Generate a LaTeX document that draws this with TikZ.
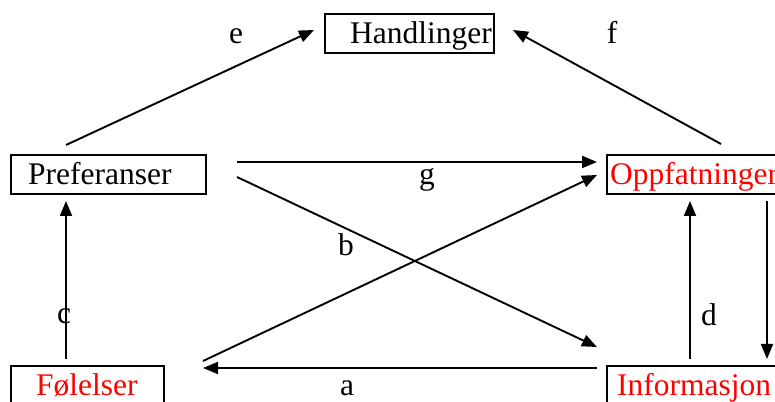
\documentclass[tikz,border=0pt]{standalone}
\usepackage{fontspec}
\setmainfont{Liberation Serif}
\usetikzlibrary{arrows.meta,calc}
\begin{document}
\begin{tikzpicture}[x=1pt,y=1pt,
  box/.style={draw,line width=2pt,minimum height=39pt,inner sep=0pt},
  txt/.style={anchor=base,inner sep=0pt,font=\fontsize{31.5}{36}\selectfont},
  lbl/.style={anchor=base,inner sep=0pt,font=\fontsize{31.5}{36}\selectfont},
  conn/.style={line width=1.9pt,-{Triangle[length=15pt,width=12pt]}}]
\useasboundingbox (0,0) rectangle (775,401);
\clip (0,0) rectangle (775,401);
% boxes
\node[box,minimum width=169pt] (H) at (409.5,367.5) {};
\node[box,minimum width=195pt] (P) at (108.5,226.5) {};
\node[box,minimum width=173pt] (O) at (693.5,226.5) {};
\node[box,minimum width=153pt,minimum height=45pt] (F) at (87.5,12.5) {};
\node[box,minimum width=183pt,minimum height=45pt] (I) at (698.5,12.5) {};
% texts
\node[txt,anchor=base west] (tH) at (350,357) {Handlinger};
\node[txt,anchor=base west] (tP) at (28,216) {Preferanser};
\node[txt,anchor=base west,text=red] (tO) at (610,216) {Oppfatninger};
\node[txt,anchor=base west,text=red] (tF) at (36,6) {Følelser};
\node[txt,anchor=base west,text=red] (tI) at (617,6) {Informasjon};
% labels
\node[lbl] (le) at (236,357) {e};
\node[lbl] (lf) at (612,357) {f};
\node[lbl] (lg) at (427,216) {g};
\node[lbl] (lb) at (346,145) {b};
\node[lbl] (lc) at (64,77) {c};
\node[lbl] (ld) at (709,75) {d};
\node[lbl] (la) at (347,6) {a};
% connectors
\draw[conn] ($(P.north west)+(56,9)$) -- ($(H.west)+(-10,3.5)$);
\draw[conn] ($(O.north west)+(115,10)$) -- ($(H.east)+(18,3.5)$);
\draw[conn] ($(P.east)+(30,12.5)$) -- ($(O.west)+(-9,12.5)$);
\draw[conn] ($(P.east)+(30,-2.5)$) -- ($(I.north west)+(-9,18)$);
\draw[conn] ($(F.north east)+(38,4)$) -- ($(O.west)+(-9,-0.5)$);
\draw[conn] ($(I.north west)+(-9,-3)$) -- ($(F.north east)+(38,-3)$);
\draw[conn] ($(F.north west)+(56,6)$) -- ($(P.south west)+(56,-6)$);
\draw[conn] ($(I.north west)+(84,6)$) -- ($(O.south west)+(84,-6)$);
\draw[conn] ($(O.south west)+(161,-6)$) -- ($(I.north west)+(161,6)$);
\end{tikzpicture}
\end{document}
